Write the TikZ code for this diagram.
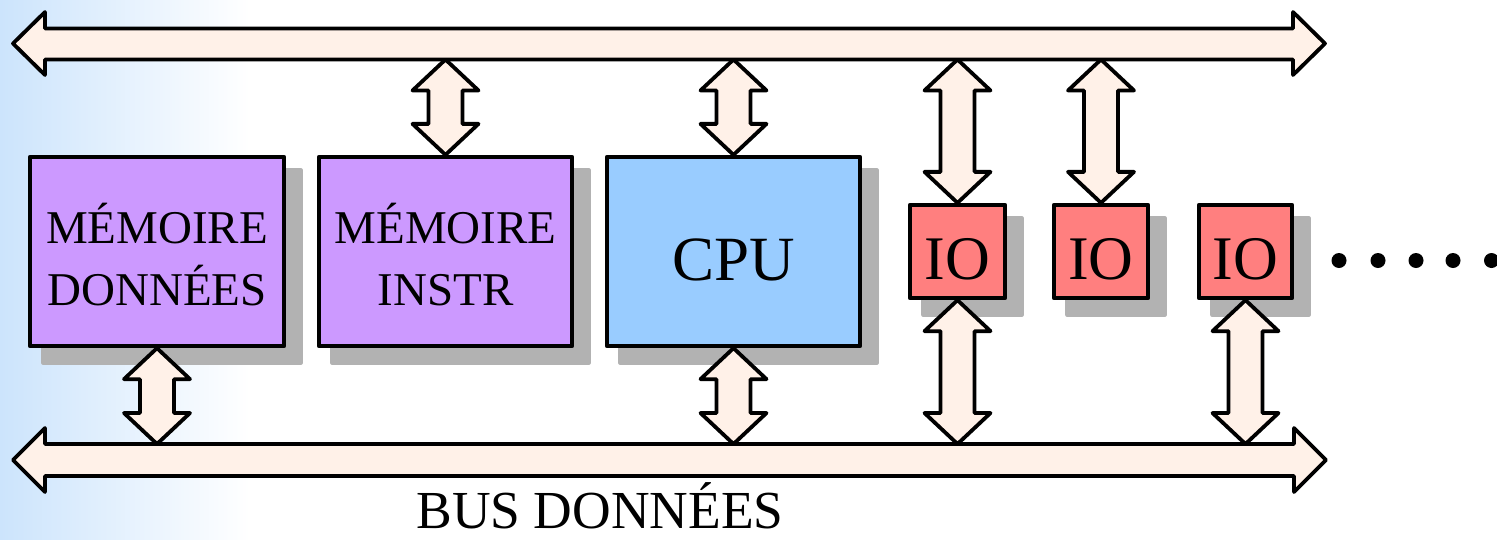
\documentclass[tikz,border=0pt]{standalone}
\usepackage{fontspec}
\setmainfont{Liberation Serif}
\usetikzlibrary{calc,backgrounds}
\definecolor{bgblue}{RGB}{204,228,252}
\definecolor{busfill}{RGB}{255,241,232}
\definecolor{memc}{RGB}{204,153,255}
\definecolor{cpuc}{RGB}{153,204,255}
\definecolor{ioc}{RGB}{255,127,127}
\definecolor{shadowc}{RGB}{178,178,178}
\tikzset{
  outl/.style={draw=black, line width=3.8pt, line join=round},
  link/.style={outl, fill=busfill},
  box/.style={outl, rectangle, inner sep=0pt, minimum height=189.5pt},
  membox/.style={box, fill=memc, font=\fontsize{47}{62}\selectfont, text height=107pt, text depth=0pt},
  cpubox/.style={box, fill=cpuc, font=\fontsize{63}{70}\selectfont, text height=57pt, text depth=0pt},
  iobox/.style={box, fill=ioc, minimum height=93.5pt, font=\fontsize{62}{70}\selectfont, text height=55pt, text depth=0pt},
  dotc/.style={circle, fill=black, inner sep=0pt, minimum size=15pt},
}
\newcommand\shadowof[1]{\fill[shadowc, rounded corners=2pt] ($(#1.north west)+(13.25,13.25)$) rectangle ($(#1.south east)+(16.75,16.75)$);}
\newcommand\vlink[3]{%
  \draw[link] let \p1=(#1 |- #2), \p2=(#1 |- #3) in
    (\p1) -- (\x1+33pt,\y1-31pt) -- (\x1+17pt,\y1-31pt) -- (\x1+17pt,\y2+31pt)
    -- (\x1+33pt,\y2+31pt) -- (\p2) -- (\x1-33pt,\y2+31pt) -- (\x1-17pt,\y2+31pt)
    -- (\x1-17pt,\y1-31pt) -- (\x1-33pt,\y1-31pt) -- cycle;}
\begin{document}
\begin{tikzpicture}[x=1pt,y=-1pt]
\useasboundingbox (0,0) rectangle (1497,539);

% boxes
\node[membox, minimum width=254.5pt] (md) at (157,251.5) {\begin{tabular}[b]{@{}c@{}}MÉMOIRE\\DONNÉES\end{tabular}};
\node[membox, minimum width=253.5pt] (mi) at (445.5,251.5) {\begin{tabular}[b]{@{}c@{}}MÉMOIRE\\INSTR\end{tabular}};
\node[cpubox, minimum width=253.5pt] (cpu) at (733.5,251.5) {CPU};
\node[iobox, minimum width=95.5pt] (io1) at (957.5,251.5) {IO};
\node[iobox, minimum width=94.5pt] (io2) at (1101,251.5) {IO};
\node[iobox, minimum width=93.5pt] (io3) at (1245.5,251.5) {IO};

% background and shadows
\begin{scope}[on background layer]
  \fill[white] (0,0) rectangle (1497,539);
  \shade[left color=bgblue, right color=white] (0,0) rectangle (250,539);
  \shadowof{md}\shadowof{mi}\shadowof{cpu}\shadowof{io1}\shadowof{io2}\shadowof{io3}
\end{scope}

% buses
\coordinate (tbb) at (0,59.5);
\coordinate (bbt) at (0,444);
\draw[link] (13,43.5) -- (45,12) -- (45,28.5) -- (1293,28.5) -- (1293,12) -- (1325,43.5)
  -- (1293,75) -- (1293,59.5) -- (45,59.5) -- (45,75) -- cycle;
\draw[link] (13,460) -- (45,428) -- (45,444) -- (1294,444) -- (1294,428) -- (1326,460)
  -- (1294,492) -- (1294,476) -- (45,476) -- (45,492) -- cycle;

% links
\vlink{mi}{tbb}{mi.north}
\vlink{cpu}{tbb}{cpu.north}
\vlink{io1}{tbb}{io1.north}
\vlink{io2}{tbb}{io2.north}
\vlink{md}{md.south}{bbt}
\vlink{cpu}{cpu.south}{bbt}
\vlink{io1}{io1.south}{bbt}
\vlink{io3}{io3.south}{bbt}

% dots
\node[dotc] (d1) at (1339,260.5) {};
\node[dotc] (d2) at (1378,260.5) {};
\node[dotc] (d3) at (1416,260.5) {};
\node[dotc] (d4) at (1453,260.5) {};
\node[dotc] (d5) at (1491.5,260.5) {};

\node[anchor=base, inner sep=0pt, font=\fontsize{53.5}{60}\selectfont] (busd) at (600,528) {BUS DONNÉES};
\end{tikzpicture}
\end{document}
